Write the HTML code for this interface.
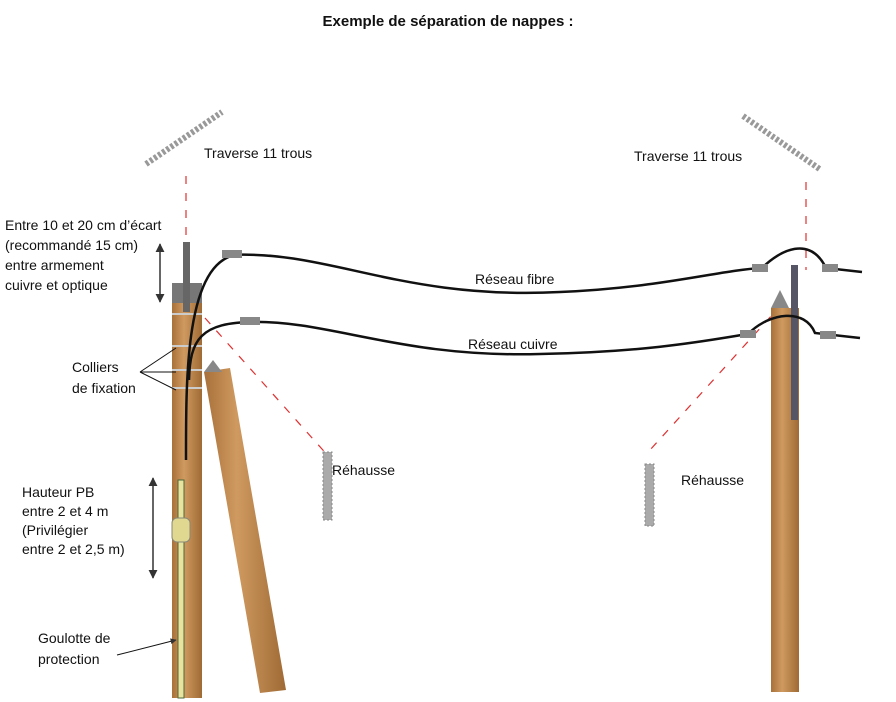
<!DOCTYPE html>
<html><head><meta charset="utf-8"><style>
body{margin:0;background:#fff;width:896px;height:702px;overflow:hidden;font-family:"Liberation Sans",sans-serif;}
svg{position:absolute;left:0;top:0}
.t{font-size:14px;fill:#111}
</style></head><body>
<svg width="896" height="702" viewBox="0 0 896 702">
<defs>
<linearGradient id="w" x1="0" x2="1"><stop offset="0" stop-color="#a8703a"/><stop offset="0.4" stop-color="#cf9a60"/><stop offset="1" stop-color="#a06a35"/></linearGradient>
<marker id="a" viewBox="0 0 10 10" refX="9" refY="5" markerWidth="6" markerHeight="6" orient="auto-start-reverse"><path d="M0,0L10,5L0,10z" fill="#333"/></marker>
</defs>
<text x="448" y="26" text-anchor="middle" style="font-size:15px;font-weight:bold" fill="#111">Exemple de séparation de nappes :</text>
<!-- traverses -->
<line x1="146" y1="164" x2="222" y2="112" stroke="#999" stroke-width="6" stroke-dasharray="3 2"/>
<line x1="743" y1="116" x2="821" y2="170" stroke="#999" stroke-width="6" stroke-dasharray="3 2"/>
<text class="t" x="204" y="158">Traverse 11 trous</text>
<text class="t" x="634" y="161">Traverse 11 trous</text>
<!-- red dashed -->
<g stroke="#e03030" stroke-width="1.2" stroke-dasharray="8 9" fill="none">
<line x1="186" y1="176" x2="186" y2="242"/>
<line x1="806" y1="182" x2="806" y2="270"/>
<line x1="205" y1="318" x2="330" y2="458"/>
<line x1="782" y1="304" x2="650" y2="450"/>
</g>
<!-- strut -->
<polygon points="204,372 230,368 286,690 260,693" fill="url(#w)"/>
<polygon points="204,372 213,360 222,372" fill="#888"/>
<!-- left pole -->
<rect x="172" y="298" width="30" height="400" fill="url(#w)"/>
<rect x="178" y="480" width="6" height="218" fill="#e8e4a0" stroke="#4a6a3a" stroke-width="1"/>
<rect x="172" y="518" width="18" height="24" rx="5" fill="#e0d890" stroke="#887" stroke-width="1"/>
<rect x="172" y="283" width="30" height="20" fill="#777"/>
<rect x="183" y="242" width="7" height="70" fill="#666"/>
<g stroke="#ccc" stroke-width="2"><line x1="172" y1="314" x2="202" y2="314"/><line x1="172" y1="346" x2="202" y2="346"/><line x1="172" y1="370" x2="202" y2="370"/><line x1="172" y1="388" x2="202" y2="388"/></g>
<path d="M186,460 C186,380 185,265 235,255" stroke="#111" stroke-width="2.5" fill="none"/>
<path d="M189,380 C190,340 200,322 255,322" stroke="#111" stroke-width="2.5" fill="none"/>
<!-- right pole -->
<rect x="771" y="308" width="28" height="384" fill="url(#w)"/>
<polygon points="771,308 780,290 789,308" fill="#888"/>
<rect x="791" y="265" width="7" height="155" fill="#556"/>
<!-- cables -->
<path d="M230,255 C330,250 400,300 560,292 C660,288 720,270 762,268 C780,250 810,235 826,268 L862,272" stroke="#111" stroke-width="2.5" fill="none"/>
<path d="M250,322 C330,320 400,358 540,354 C650,352 710,340 748,334 C770,312 805,308 815,333 L860,338" stroke="#111" stroke-width="2.5" fill="none"/>
<g fill="#888"><rect x="222" y="250" width="20" height="8"/><rect x="240" y="317" width="20" height="8"/><rect x="752" y="264" width="16" height="8"/><rect x="822" y="264" width="16" height="8"/><rect x="740" y="330" width="16" height="8"/><rect x="820" y="331" width="16" height="8"/></g>
<text class="t" x="475" y="284">Réseau fibre</text>
<text class="t" x="468" y="349">Réseau cuivre</text>
<!-- rehausse -->
<rect x="323" y="452" width="9" height="68" fill="#aaa" stroke="#888" stroke-dasharray="2 2"/>
<rect x="645" y="464" width="9" height="62" fill="#aaa" stroke="#888" stroke-dasharray="2 2"/>
<text class="t" x="332" y="475">Réhausse</text>
<text class="t" x="681" y="485">Réhausse</text>
<!-- arrows -->
<line x1="160" y1="244" x2="160" y2="302" stroke="#333" stroke-width="1.5" marker-start="url(#a)" marker-end="url(#a)"/>
<line x1="153" y1="478" x2="153" y2="578" stroke="#333" stroke-width="1.5" marker-start="url(#a)" marker-end="url(#a)"/>
<g stroke="#111" stroke-width="1" fill="none"><line x1="140" y1="372" x2="176" y2="348"/><line x1="140" y1="372" x2="176" y2="372"/><line x1="140" y1="372" x2="176" y2="390"/></g>
<line x1="117" y1="655" x2="176" y2="640" stroke="#111" stroke-width="1" marker-end="url(#a)"/>
<g class="t">
<text x="5" y="230">Entre 10 et 20 cm d’écart</text>
<text x="5" y="250">(recommandé 15 cm)</text>
<text x="5" y="270">entre armement</text>
<text x="5" y="290">cuivre et optique</text>
<text x="72" y="372">Colliers</text>
<text x="72" y="393">de fixation</text>
<text x="22" y="497">Hauteur PB</text>
<text x="22" y="516">entre 2 et 4 m</text>
<text x="22" y="535">(Privilégier</text>
<text x="22" y="554">entre 2 et 2,5 m)</text>
<text x="38" y="643">Goulotte de</text>
<text x="38" y="664">protection</text>
</g>
</svg>
</body></html>
